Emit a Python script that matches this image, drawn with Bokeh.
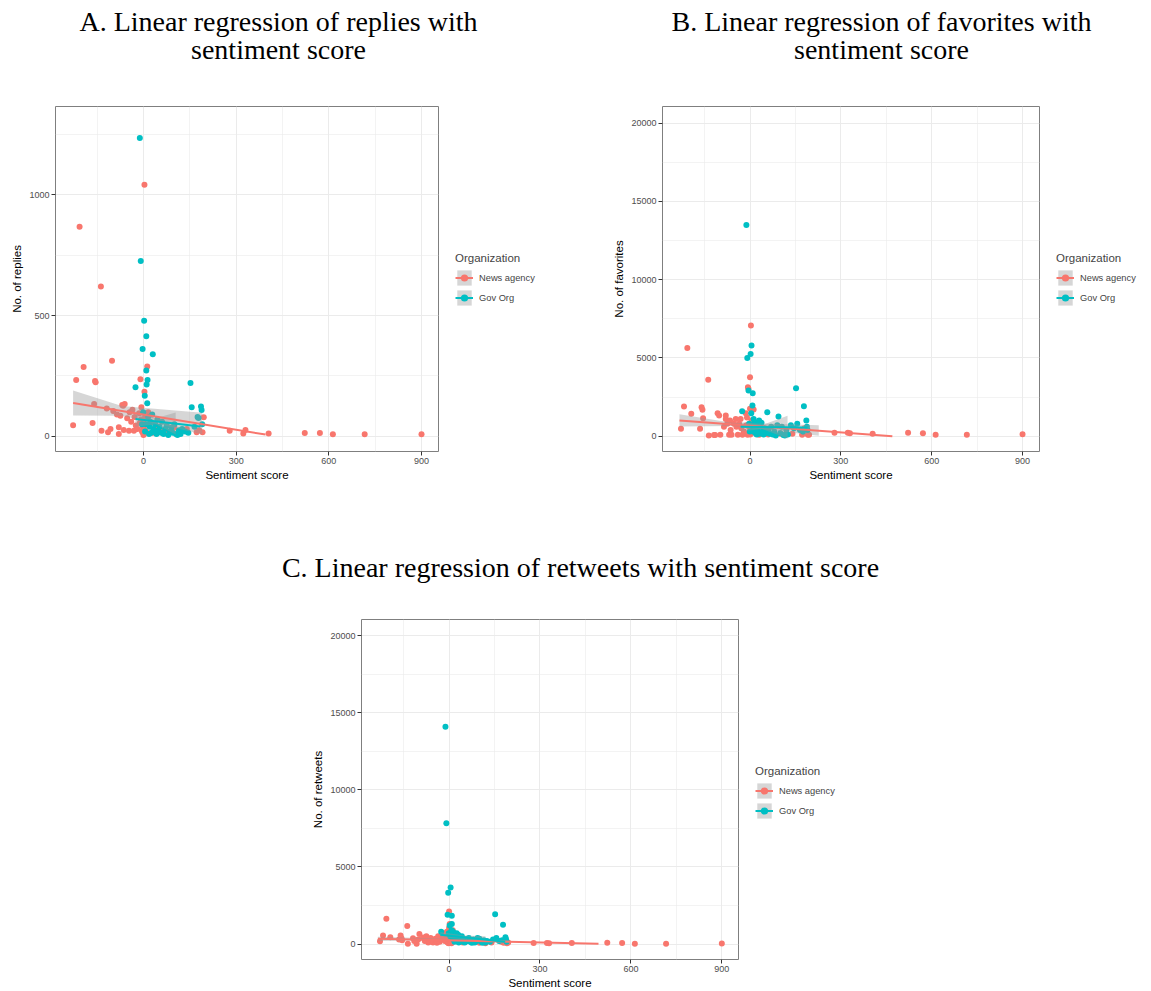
from bokeh.plotting import figure
from bokeh.models import (Range1d, FixedTicker, Legend, LegendItem, Spacer, ColumnDataSource)
from bokeh.core.properties import value
from bokeh.layouts import row, column
from bokeh.embed import file_html
from bokeh.resources import INLINE

# ---------------- data ----------------
news_score = [-228, -218, -207, -194, -165, -160, -157, -155, -138, -136, -119, -115,
              -107, -102, -98, -86, -80, -80, -75, -69, -66, -64, -61, -53, -47, -45,
              -40, -36, -31, -29, -25, -20, -14, -12, -10, -8, -7, -5, -3, -2, 0, 0,
              1, 2, 3, 3, 5, 8, 12, 15, 20, 30, 45, 60, 80, 100, 120, 140, 172, 180,
              191, 195, 279, 323, 330, 405, 522, 571, 613, 716, 900]
news_replies = [46, 233, 868, 287, 55, 134, 229, 224, 620, 23, 115, 17,
                30, 313, 105, 90, 10, 37, 85, 130, 127, 26, 134, 75, 23, 100,
                60, 110, 23, 80, 45, 30, 95, 55, 236, 70, 120, 20, 40, 15, 5, 60,
                10, 30, 1042, 185, 80, 20, 289, 100, 50, 15, 40, 25, 20, 35, 20, 30, 17, 25,
                17, 79, 23, 12, 26, 12, 14, 14, 8, 8, 8]
news_favorites = [470, 1894, 5638, 1426, 468, 1850, 1680, 1150, 3596, 40, 80, 80,
                  1470, 1320, 85, 600, 1320, 1100, 790, 85, 1000, 400, 85, 790, 1100, 600,
                  85, 790, 1100, 500, 85, 300, 1470, 700, 1200, 85, 3128, 3021, 600, 200, 3766, 1745,
                  100, 200, 7064, 400, 1000, 300, 1700, 600, 150, 90, 250, 100, 120, 150, 100, 150, 85, 500,
                  85, 85, 213, 213, 190, 150, 213, 190, 85, 85, 128]
news_retweets = [190, 554, 1640, 447, 300, 554, 380, 250, 1171, 21, 380, 200,
                 21, 300, 660, 420, 350, 200, 500, 100, 300, 150, 400, 100, 250, 350,
                 80, 500, 150, 300, 600, 400, 200, 700, 300, 500, 800, 100, 400, 50, 2108, 1044,
                 300, 1300, 600, 200, 100, 50, 900, 250, 400, 150, 100, 200, 120, 80, 60, 100, 150, 80,
                 50, 100, 64, 64, 60, 64, 85, 64, 21, 21, 43]

gov_score = [-26, -12, -9, -5, -3, -1, 2, 4, 5, 8, 9, 9, 10, 12, 13, 15, 18, 20, 22, 25,
             28, 30, 32, 35, 38, 42, 45, 48, 52, 57, 60, 65, 70, 75, 80, 85, 90, 94, 100,
             105, 110, 115, 120, 125, 135, 145, 152, 156, 165, 175, 178, 186, 188, 190]
gov_replies = [203, 1236, 726, 50, 362, 100, 479, 168, 20, 50, 414, 272, 214, 137, 233, 80, 10, 40, 60, 15,
               90, 340, 30, 20, 50, 10, 70, 25, 40, 15, 60, 10, 30, 45, 5, 20, 35, 15, 50,
               10, 5, 25, 10, 30, 20, 15, 221, 120, 40, 80, 76, 123, 109, 50]
gov_favorites = [1596, 13490, 5000, 2915, 800, 300, 5255, 1468, 5787, 1957, 2745, 600, 300, 1100, 500, 900, 200, 700, 100, 400,
                 800, 1000, 150, 600, 850, 300, 100, 500, 200, 1532, 400, 150, 600, 100, 300, 50, 700, 1255, 200,
                 600, 80, 50, 400, 100, 700, 500, 3064, 800, 400, 300, 1915, 1000, 600, 400]
gov_retweets = [800, 14100, 7838, 1896, 3323, 700, 1200, 500, 3663, 900, 1832, 1300, 600, 400, 800, 300, 150, 500, 200, 700,
                300, 600, 100, 400, 250, 500, 150, 350, 100, 300, 200, 400, 150, 80, 300, 100, 200, 400, 350,
                150, 80, 250, 100, 200, 150, 300, 1938, 400, 200, 250, 1257, 450, 300, 150]

# regression lines and confidence bands
replies_news_fit_x = [-228, 395]
replies_news_fit_y = [138, 7]
replies_news_band_x = [-228, -70, 190]
replies_news_band_lo = [86, 85, 8]
replies_news_band_hi = [190, 125, 98]
replies_gov_fit_x = [-26, 184]
replies_gov_fit_y = [72, 41]
replies_gov_band_x = [-26, 40, 104]
replies_gov_band_lo = [40, 50, 7]
replies_gov_band_hi = [104, 75, 99]

favorites_news_fit_x = [-233, 470]
favorites_news_fit_y = [1000, 0]
favorites_news_band_x = [-233, -60, 227]
favorites_news_band_lo = [620, 650, 30]
favorites_news_band_hi = [1400, 860, 690]
favorites_gov_fit_x = [-31, 190]
favorites_gov_fit_y = [600, 560]
favorites_gov_band_x = [-31, 40, 124]
favorites_gov_band_lo = [300, 450, -150]
favorites_gov_band_hi = [900, 720, 1300]

retweets_news_fit_x = [-235, 493]
retweets_news_fit_y = [340, 20]
retweets_news_band_x = [-235, 0, 200]
retweets_news_band_lo = [200, 260, 100]
retweets_news_band_hi = [470, 340, 250]
retweets_gov_fit_x = [-29, 185]
retweets_gov_fit_y = [600, 150]
retweets_gov_band_x = [-29, 50, 120]
retweets_gov_band_lo = [430, 330, 150]
retweets_gov_band_hi = [780, 560, 500]

x_ticks = [0, 300, 600, 900]
x_minor = [-150, 150, 450, 750]
replies_ticks = [0, 500, 1000]
replies_minor = [250, 750, 1250]
big_ticks = [0, 5000, 10000, 15000, 20000]
big_minor = [2500, 7500, 12500, 17500]

series_labels = ["News agency", "Gov Org"]
legend_title = "Organization"
title_A = ["A. Linear regression of replies with", "sentiment score"]
title_B = ["B. Linear regression of favorites with", "sentiment score"]
title_C = ["C. Linear regression of retweets with sentiment score"]

# ---------------- style ----------------
NEWS_COLOR = "#F8766D"
GOV_COLOR = "#00BFC4"
BAND_COLOR = "#999999"
SANS = "Liberation Sans"
SERIF = "Liberation Serif"
GRID = "#EBEBEB"
PT_SIZE = 6


def blank(width, height):
    f = figure(width=width, height=height, x_range=Range1d(0, width), y_range=Range1d(0, height),
               output_backend="svg", toolbar_location=None, min_border=0,
               x_axis_type=None, y_axis_type=None)
    f.grid.visible = False
    f.outline_line_color = None
    f.background_fill_color = "white"
    f.border_fill_color = "white"
    return f


def make_title(width, height, lines, cx, cys):
    t = blank(width, height)
    t.text(x=[cx] * len(lines), y=cys, text=lines, text_align="center", text_baseline="middle",
           text_font=value(SERIF), text_font_size="28px", text_color="black")
    return t


def make_legend(width, height, loc):
    # key swatches only: the glyphs sit outside the visible range, the legend draws their keys
    f = blank(width, height)
    items = []
    off = [-50, -40]
    for lab, col in zip(series_labels, (NEWS_COLOR, GOV_COLOR)):
        band = f.varea(x=off, y1=off, y2=off, fill_color=BAND_COLOR, fill_alpha=0.4)
        ln = f.line(x=off, y=off, line_color=col, line_width=2)
        pt = f.scatter(x=off[:1], y=off[:1], size=PT_SIZE, fill_color=col, line_color=None)
        items.append(LegendItem(label=lab, renderers=[band, ln, pt]))
    lg = Legend(items=items, title=legend_title, location=loc)
    lg.title_text_font = SANS
    lg.title_text_font_size = "11.5px"
    lg.title_text_font_style = "normal"
    lg.title_standoff = 4
    lg.label_text_font = SANS
    lg.label_text_font_size = "9.3px"
    lg.label_standoff = 6
    lg.label_height = 19
    lg.glyph_width = 18
    lg.glyph_height = 19
    lg.spacing = 1
    lg.padding = 0
    lg.margin = 0
    lg.border_line_color = None
    lg.background_fill_alpha = 0
    f.add_layout(lg)
    return f


def make_panel(width, height, bl, br, bt, bb, x_rng, y_rng, y_ticks, y_minor, y_label,
               news_y, gov_y, fits):
    p = figure(width=width, height=height, x_range=Range1d(*x_rng), y_range=Range1d(*y_rng),
               output_backend="svg", toolbar_location=None,
               min_border_left=bl, min_border_right=br, min_border_top=bt, min_border_bottom=bb)
    p.background_fill_color = "white"
    p.border_fill_color = "white"
    p.outline_line_color = "#7F7F7F"
    p.outline_line_width = 1

    p.xaxis.ticker = FixedTicker(ticks=x_ticks, minor_ticks=x_minor)
    p.yaxis.ticker = FixedTicker(ticks=y_ticks, minor_ticks=y_minor)
    for ax in (p.xaxis, p.yaxis):
        ax.axis_line_color = None
        ax.major_tick_line_color = "#333333"
        ax.major_tick_out = 4
        ax.major_tick_in = 0
        ax.minor_tick_line_color = None
        ax.major_label_text_font = SANS
        ax.major_label_text_font_size = "9px"
        ax.major_label_text_color = "#4D4D4D"
        ax.major_label_standoff = 2
        ax.axis_label_text_font = SANS
        ax.axis_label_text_font_size = "11.5px"
        ax.axis_label_text_font_style = "normal"
        ax.axis_label_text_color = "black"
        ax.axis_label_standoff = 2
    p.xaxis.axis_label = "Sentiment score"
    p.yaxis.axis_label = y_label
    p.yaxis.axis_label_standoff = 3

    for g in (p.xgrid, p.ygrid):
        g.grid_line_color = GRID
        g.grid_line_width = 1
        g.minor_grid_line_color = GRID
        g.minor_grid_line_width = 0.6

    src_n = ColumnDataSource(dict(x=news_score, y=news_y))
    src_g = ColumnDataSource(dict(x=gov_score, y=gov_y))
    p.scatter("x", "y", source=src_n, size=PT_SIZE, fill_color=NEWS_COLOR, line_color=None)
    p.scatter("x", "y", source=src_g, size=PT_SIZE, fill_color=GOV_COLOR, line_color=None)

    p.varea(x=fits["nbx"], y1=fits["nlo"], y2=fits["nhi"], fill_color=BAND_COLOR, fill_alpha=0.4)
    p.varea(x=fits["gbx"], y1=fits["glo"], y2=fits["ghi"], fill_color=BAND_COLOR, fill_alpha=0.4)
    p.line(x=fits["nfx"], y=fits["nfy"], line_color=NEWS_COLOR, line_width=2)
    p.line(x=fits["gfx"], y=fits["gfy"], line_color=GOV_COLOR, line_width=2)
    return p


tA = make_title(575, 98, title_A, 278, [77, 49])
tB = make_title(576, 98, title_B, 306, [77, 49])
tC = make_title(700, 100, title_C, 350, [38])

pA = make_panel(440, 407, 55, 2, 8, 54, (-285, 955), (-63, 1366), replies_ticks, replies_minor,
                "No. of replies", news_replies, gov_replies,
                dict(nfx=replies_news_fit_x, nfy=replies_news_fit_y, nbx=replies_news_band_x,
                     nlo=replies_news_band_lo, nhi=replies_news_band_hi,
                     gfx=replies_gov_fit_x, gfy=replies_gov_fit_y, gbx=replies_gov_band_x,
                     glo=replies_gov_band_lo, ghi=replies_gov_band_hi))
lA = make_legend(135, 407, (15, 144))

pB = make_panel(466, 407, 87, 2, 8, 54, (-289, 956), (-980, 21060), big_ticks, big_minor,
                "No. of favorites", news_favorites, gov_favorites,
                dict(nfx=favorites_news_fit_x, nfy=favorites_news_fit_y, nbx=favorites_news_band_x,
                     nlo=favorites_news_band_lo, nhi=favorites_news_band_hi,
                     gfx=favorites_gov_fit_x, gfy=favorites_gov_fit_y, gbx=favorites_gov_band_x,
                     glo=favorites_gov_band_lo, ghi=favorites_gov_band_hi))
lB = make_legend(110, 407, (15, 144))

pC = make_panel(460, 386, 81, 2, 14, 27, (-289, 955), (-1000, 21050), big_ticks, big_minor,
                "No. of retweets", news_retweets, gov_retweets,
                dict(nfx=retweets_news_fit_x, nfy=retweets_news_fit_y, nbx=retweets_news_band_x,
                     nlo=retweets_news_band_lo, nhi=retweets_news_band_hi,
                     gfx=retweets_gov_fit_x, gfy=retweets_gov_fit_y, gbx=retweets_gov_band_x,
                     glo=retweets_gov_band_lo, ghi=retweets_gov_band_hi))
lC = make_legend(150, 386, (15, 139))

layout = column(row(tA, tB), row(pA, lA, pB, lB),
                row(Spacer(width=230, height=100), tC),
                row(Spacer(width=280, height=386), pC, lC))

open("out.html", "w").write(file_html(layout, INLINE))
